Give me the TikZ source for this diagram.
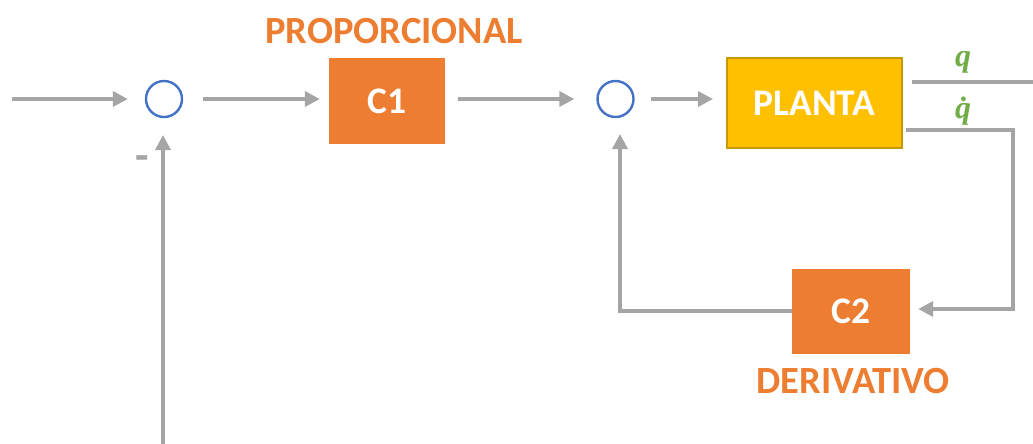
\documentclass[tikz,border=0pt]{standalone}
\usepackage{fontspec}
\setmainfont{Carlito}
\newfontfamily\sigfont{Liberation Serif}
\usetikzlibrary{arrows.meta}
\definecolor{wiregray}{HTML}{A5A5A5}
\definecolor{ctrlorange}{HTML}{ED7D31}
\definecolor{plantgold}{HTML}{FFC000}
\definecolor{plantedge}{HTML}{C9970A}
\definecolor{sumblue}{HTML}{4472C4}
\definecolor{sigreen}{HTML}{70AD47}
\tikzset{
  wire/.style={draw=wiregray, line width=3.5pt},
  arr/.style={wire, -{Triangle[length=15pt,width=15pt]}},
  ctrlblock/.style={fill=ctrlorange, text=white, inner sep=0pt,
    font=\bfseries\fontsize{37.5}{37.5}\selectfont},
  plantblock/.style={fill=plantgold, draw=plantedge, line width=2pt, text=white, inner sep=0pt,
    minimum width=175pt, minimum height=90pt, font=\bfseries\fontsize{37.5}{37.5}\selectfont},
  sumpt/.style={circle, draw=sumblue, line width=2.4pt, minimum size=36pt, inner sep=0pt},
  blocktitle/.style={text=ctrlorange, font=\bfseries\fontsize{38.5}{38.5}\selectfont},
  siglabel/.style={text=sigreen, inner sep=0pt, font=\sigfont\bfseries\itshape\fontsize{32}{32}\selectfont},
  minuslabel/.style={text=wiregray, inner sep=0pt, font=\bfseries\fontsize{44}{44}\selectfont}
}
\begin{document}
\begin{tikzpicture}[x=1pt,y=-1pt]
\useasboundingbox (0,0) rectangle (1033,444);

% blocks and summing junctions
\node[sumpt] (s1) at (164,99) {};
\node[ctrlblock, minimum width=116pt, minimum height=85pt] (c1) at (387,101) {C1};
\node[sumpt] (s2) at (615.5,99) {};
\node[plantblock] (pl) at (814.5,103) {PLANTA};
\node[ctrlblock, minimum width=118pt, minimum height=85pt] (c2) at (851,311.5) {C2};

% block titles
\node[blocktitle] (tp) at (394,31) {PROPORCIONAL};
\node[blocktitle] (td) at (853,381) {DERIVATIVO};

% output labels q and q-dot
\node[siglabel] (lq) at (963,62) {q};
\node[siglabel] (lqd) at (963,111) {\.q};
\node[minuslabel] (mn) at (142,163) {-};

% free ends
\coordinate (in) at (12,99);
\coordinate (fb) at (163,444);
\coordinate (qout) at (1033,82);
\coordinate (qd0) at (906,130);
\coordinate (qd1) at (1013,130);
\coordinate (qd2) at (1013,309);
\coordinate (c2l) at (620,311);

% forward path (all at the height of the junctions)
\draw[arr] (in) -- ([xshift=-17pt]s1.west);
\draw[arr] ([xshift=20pt]s1.east) -- ([xshift=-9pt]c1.west |- s1);
\draw[arr] ([xshift=13pt]c1.east |- s2) -- ([xshift=-22pt]s2.west);
\draw[arr] ([xshift=16pt]s2.east) -- ([xshift=-13pt]pl.west |- s2);

% plant outputs
\draw[wire] (912,82) -- (qout);
\draw[arr] (qd0) -- (qd1) -- (qd2) -- ([xshift=8pt]c2.east |- qd2);

% inner derivative loop
\draw[arr] (c2.west |- c2l) -- (c2l) -- (c2l |- 0,134);

% outer feedback
\draw[arr] (fb) -- (fb |- 0,135);
\end{tikzpicture}
\end{document}
